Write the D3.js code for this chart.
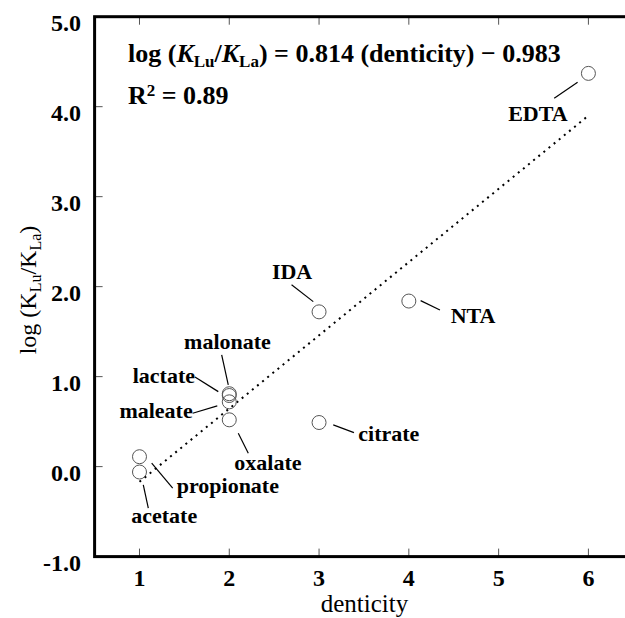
<!DOCTYPE html>
<html>
<head>
<meta charset="utf-8">
<script src="https://cdn.jsdelivr.net/npm/d3@7"></script>
<style>
  html, body { margin: 0; padding: 0; background: #fff; }
  svg { display: block; }
</style>
</head>
<body>
<script>
// ---- data ----
const ligands   = ["acetate", "propionate", "lactate", "malonate", "maleate", "oxalate", "IDA", "citrate", "NTA", "EDTA"];
const denticity = [1, 1, 2, 2, 2, 2, 3, 3, 4, 6];
const logRatio  = [-0.06, 0.11, 0.79, 0.81, 0.72, 0.52, 1.72, 0.49, 1.84, 4.37];
const xTicks = [1, 2, 3, 4, 5, 6];
const yTicks = [-1, 0, 1, 2, 3, 4, 5];
const slope = 0.814, intercept = -0.983;
const fitRange = [1, 6];

// label layout (pixel offsets from point): text anchor, text pos, leader start, leader end
const labelLayout = {
  "EDTA":       {anchor: "middle", t: [-50.5, 47.6], l: [[-34.2, 24.9], [-10.8, 8.9]]},
  "IDA":        {anchor: "middle", t: [-27, -33],    l: [[-27.5, -27], [-5.8, -10.2]]},
  "NTA":        {anchor: "start",  t: [41.8, 21.6],  l: [[11.8, -0.4], [31.1, 8.9]]},
  "citrate":    {anchor: "start",  t: [39.2, 18.1],  l: [[14.2, 2.4], [34.9, 10.1]]},
  "malonate":   {anchor: "middle", t: [-1.8, -44.5], l: [[-7.6, -38.8], [-1, -8.8]]},
  "lactate":    {anchor: "end",    t: [-34.3, -12.3],l: [[-34.3, -18.6], [-11, -3.9]]},
  "maleate":    {anchor: "end",    t: [-36.6, 16.4], l: [[-36.6, 11.4], [-12, 4.1]]},
  "oxalate":    {anchor: "middle", t: [38.6, 50.1],  l: [[9, 13.4], [19, 33.4]]},
  "propionate": {anchor: "start",  t: [37.2, 36.5],  l: [[12.2, 6.5], [33.2, 31.5]]},
  "acetate":    {anchor: "middle", t: [24.7, 51.2],  l: [[3.8, 12.9], [8.8, 36.2]]}
};

// ---- chart ----
const W = 625, H = 618;
const FONT = "'Liberation Serif', 'DejaVu Serif', serif";
const svg = d3.select("body").append("svg").attr("width", W).attr("height", H)
  .attr("font-family", FONT);

const x = d3.scaleLinear().domain([0.5, 6.5]).range([94.6, 633.3]);
const y = d3.scaleLinear().domain([-1, 5]).range([556.6, 16.7]);

const tickLen = 8;
const tickColor = "#555";

// ticks (inward, all sides)
const tg = svg.append("g");
xTicks.forEach(v => {
  tg.append("line").attr("x1", x(v)).attr("x2", x(v)).attr("y1", y(-1)).attr("y2", y(-1) - tickLen)
    .attr("stroke", tickColor).attr("stroke-width", 1);
  tg.append("line").attr("x1", x(v)).attr("x2", x(v)).attr("y1", y(5)).attr("y2", y(5) + tickLen)
    .attr("stroke", tickColor).attr("stroke-width", 1);
});
yTicks.forEach(v => {
  tg.append("line").attr("x1", x(0.5)).attr("x2", x(0.5) + tickLen).attr("y1", y(v)).attr("y2", y(v))
    .attr("stroke", tickColor).attr("stroke-width", 1);
  tg.append("line").attr("x1", x(6.5)).attr("x2", x(6.5) - tickLen).attr("y1", y(v)).attr("y2", y(v))
    .attr("stroke", tickColor).attr("stroke-width", 1);
});

// frame
svg.append("rect")
  .attr("x", x(0.5)).attr("y", y(5))
  .attr("width", x(6.5) - x(0.5)).attr("height", y(-1) - y(5))
  .attr("fill", "none").attr("stroke", "#000").attr("stroke-width", 3);

// tick labels
svg.append("g").selectAll("text").data(xTicks).join("text")
  .attr("x", d => x(d)).attr("y", 586)
  .attr("text-anchor", "middle").attr("font-family", FONT)
  .attr("font-size", 24).attr("font-weight", "bold")
  .text(d => d);

svg.append("g").selectAll("text").data(yTicks).join("text")
  .attr("x", 81).attr("y", d => y(d) + 14.5)
  .attr("text-anchor", "end").attr("font-family", FONT)
  .attr("font-size", 24).attr("font-weight", "bold")
  .text(d => d.toFixed(1));

// axis titles
svg.append("text")
  .attr("x", (x(1) + x(6)) / 2 + 0.5).attr("y", 612)
  .attr("text-anchor", "middle").attr("font-size", 25).attr("font-family", FONT)
  .text("denticity");

const yt = svg.append("text")
  .attr("transform", "translate(36,290) rotate(-90)")
  .attr("text-anchor", "middle").attr("font-size", 24).attr("font-family", FONT);
yt.append("tspan").text("log (K");
yt.append("tspan").attr("font-size", 16).attr("dy", 5).text("Lu");
yt.append("tspan").attr("dy", -5).text("/K");
yt.append("tspan").attr("font-size", 16).attr("dy", 5).text("La");
yt.append("tspan").attr("dy", -5).text(")");

// regression line
svg.append("line")
  .attr("x1", x(fitRange[0])).attr("y1", y(slope * fitRange[0] + intercept))
  .attr("x2", x(fitRange[1])).attr("y2", y(slope * fitRange[1] + intercept))
  .attr("stroke", "#000").attr("stroke-width", 2)
  .attr("stroke-dasharray", "2,4.6");

// equation
const eq = svg.append("text").attr("x", 128).attr("y", 62).attr("font-family", FONT)
  .attr("font-size", 26).attr("font-weight", "bold");
eq.append("tspan").text("log (");
eq.append("tspan").attr("font-style", "italic").text("K");
eq.append("tspan").attr("font-size", 17).attr("dy", 5).text("Lu");
eq.append("tspan").attr("dy", -5).text("/");
eq.append("tspan").attr("font-style", "italic").text("K");
eq.append("tspan").attr("font-size", 17).attr("dy", 5).text("La");
eq.append("tspan").attr("dy", -5).text(") = " + slope.toFixed(3) + " (denticity) \u2212 " + Math.abs(intercept).toFixed(3));

const r2 = svg.append("text").attr("x", 128).attr("y", 103.5).attr("font-family", FONT)
  .attr("font-size", 26).attr("font-weight", "bold");
r2.append("tspan").text("R");
r2.append("tspan").attr("font-size", 17).attr("dy", -8).text("2");
r2.append("tspan").attr("dy", 8).text(" = 0.89");

// data
const pts = ligands.map((name, i) => ({name, d: denticity[i], v: logRatio[i]}));

// leaders
svg.append("g").selectAll("line").data(pts).join("line")
  .attr("x1", p => x(p.d) + labelLayout[p.name].l[0][0])
  .attr("y1", p => y(p.v) + labelLayout[p.name].l[0][1])
  .attr("x2", p => x(p.d) + labelLayout[p.name].l[1][0])
  .attr("y2", p => y(p.v) + labelLayout[p.name].l[1][1])
  .attr("stroke", "#000").attr("stroke-width", 1.2);

// points
svg.append("g").selectAll("circle").data(pts).join("circle")
  .attr("cx", p => x(p.d)).attr("cy", p => y(p.v)).attr("r", 7)
  .attr("fill", "none").attr("stroke", "#555").attr("stroke-width", 1);

// labels
svg.append("g").selectAll("text").data(pts).join("text")
  .attr("x", p => x(p.d) + labelLayout[p.name].t[0])
  .attr("y", p => y(p.v) + labelLayout[p.name].t[1])
  .attr("text-anchor", p => labelLayout[p.name].anchor).attr("font-family", FONT)
  .attr("font-size", 22).attr("font-weight", "bold")
  .text(p => p.name);
</script>
</body>
</html>
